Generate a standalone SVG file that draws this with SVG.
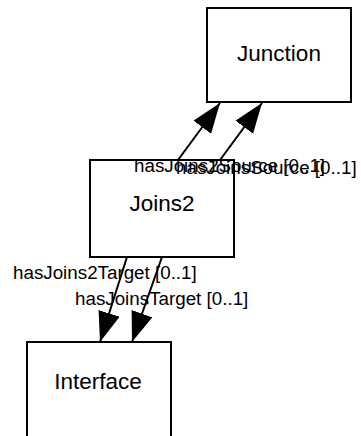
<svg xmlns="http://www.w3.org/2000/svg" width="361" height="436" viewBox="0 0 361 436">
<style>
.node rect{fill:#fff;stroke:#000;stroke-width:2}
.node text{font-family:"Liberation Sans",Arial,sans-serif;font-size:22.5px;text-anchor:middle;fill:#000}
.edge line{stroke:#000;stroke-width:2}
.lbl{font-family:"Liberation Sans",Arial,sans-serif;font-size:18.8px;fill:#000}
</style>
<defs>
<marker id="ah" markerUnits="userSpaceOnUse" markerWidth="32" markerHeight="24" refX="30" refY="11" orient="auto">
<path d="M0,0 L30,11 L0,22 z" fill="#000"/>
</marker>
</defs>
<rect width="361" height="436" fill="#fff"/>
<g id="Junction" class="node"><rect x="207" y="8" width="144" height="94"/><text x="279" y="61">Junction</text></g>
<g id="Joins2" class="node"><rect x="90" y="160" width="144" height="97"/><text x="162" y="211">Joins2</text></g>
<g id="Interface" class="node"><rect x="27" y="342" width="144" height="100"/><text x="98" y="389">Interface</text></g>
<g id="edges" class="edge">
<line x1="178" y1="160" x2="220" y2="103" marker-end="url(#ah)"/>
<line x1="220" y1="160" x2="262" y2="103" marker-end="url(#ah)"/>
<line x1="127" y1="257" x2="100" y2="342" marker-end="url(#ah)"/>
<line x1="162" y1="257" x2="132" y2="342" marker-end="url(#ah)"/>
<text class="lbl" x="134" y="172">hasJoins2Source [0..1]</text>
<text class="lbl" x="176" y="174">hasJoinsSource [0..1]</text>
<text class="lbl" x="13" y="279">hasJoins2Target [0..1]</text>
<text class="lbl" x="75" y="305">hasJoinsTarget [0..1]</text>
</g>
</svg>
